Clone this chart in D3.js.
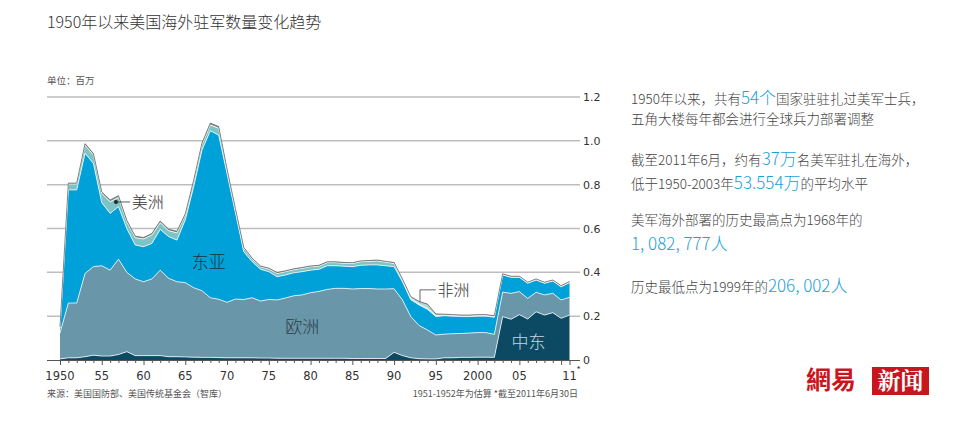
<!DOCTYPE html>
<html><head><meta charset="utf-8">
<script src="https://cdn.jsdelivr.net/npm/d3@7"></script>
<style>
body{margin:0;background:#fff;}
svg{display:block;font-family:"Noto Sans CJK SC","Noto Sans",sans-serif;}
</style></head>
<body><svg id="c" width="960" height="422"></svg>
<script>
const years = d3.range(1950, 2012);
const middleEast = [0.005,0.01,0.01,0.015,0.022,0.018,0.018,0.025,0.038,0.02,0.02,0.02,0.02,0.015,0.015,0.014,0.013,0.012,0.012,0.011,0.01,0.01,0.01,0.01,0.009,0.009,0.008,0.008,0.008,0.008,0.008,0.008,0.008,0.008,0.008,0.007,0.007,0.007,0.007,0.007,0.035,0.02,0.01,0.006,0.005,0.005,0.01,0.01,0.012,0.012,0.013,0.013,0.012,0.198,0.186,0.207,0.187,0.22,0.205,0.216,0.19,0.205];
const europe = [0.118,0.25,0.25,0.38,0.404,0.412,0.392,0.435,0.362,0.35,0.337,0.35,0.39,0.358,0.342,0.339,0.317,0.304,0.272,0.266,0.253,0.268,0.266,0.274,0.26,0.267,0.266,0.275,0.285,0.289,0.299,0.305,0.314,0.319,0.319,0.317,0.319,0.319,0.317,0.317,0.29,0.254,0.188,0.151,0.132,0.109,0.108,0.11,0.109,0.111,0.112,0.112,0.105,0.112,0.118,0.105,0.094,0.089,0.092,0.088,0.084,0.081];
const eastAsia = [0.02,0.516,0.516,0.548,0.471,0.288,0.259,0.24,0.2,0.155,0.16,0.162,0.186,0.19,0.19,0.286,0.46,0.642,0.762,0.749,0.587,0.394,0.218,0.165,0.145,0.127,0.106,0.105,0.105,0.106,0.103,0.101,0.108,0.103,0.101,0.102,0.106,0.108,0.11,0.106,0.101,0.083,0.077,0.094,0.094,0.084,0.084,0.08,0.077,0.075,0.075,0.075,0.078,0.078,0.073,0.065,0.069,0.056,0.053,0.056,0.06,0.067];
const americas = [0.005,0.027,0.027,0.037,0.038,0.042,0.053,0.042,0.03,0.033,0.035,0.038,0.03,0.027,0.033,0.022,0.023,0.025,0.026,0.031,0.016,0.015,0.016,0.012,0.011,0.012,0.015,0.015,0.014,0.015,0.015,0.014,0.014,0.014,0.013,0.014,0.016,0.016,0.018,0.016,0.014,0.008,0.006,0.004,0.004,0.004,0.003,0.003,0.003,0.003,0.003,0.003,0.003,0.002,0.002,0.002,0.002,0.002,0.002,0.002,0.002,0.002];
const africa = [0.001,0.001,0.001,0.001,0.001,0.001,0.001,0.001,0.001,0.001,0.001,0.001,0.001,0.001,0.001,0.001,0.001,0.001,0.001,0.001,0.001,0.001,0.001,0.001,0.001,0.001,0.001,0.001,0.001,0.001,0.001,0.001,0.001,0.001,0.001,0.001,0.001,0.001,0.001,0.001,0.002,0.003,0.006,0.01,0.018,0.006,0.002,0.002,0.002,0.002,0.002,0.002,0.002,0.001,0.001,0.001,0.001,0.001,0.001,0.001,0.001,0.001];
const other = [0.002,0.003,0.003,0.006,0.006,0.006,0.007,0.007,0.006,0.006,0.006,0.006,0.007,0.006,0.006,0.005,0.005,0.006,0.008,0.007,0.004,0.003,0.003,0.003,0.003,0.003,0.003,0.003,0.003,0.003,0.003,0.003,0.003,0.003,0.003,0.003,0.003,0.003,0.003,0.003,0.003,0.002,0.002,0.002,0.002,0.002,0.002,0.002,0.002,0.002,0.002,0.002,0.002,0.002,0.002,0.002,0.002,0.002,0.002,0.002,0.002,0.002];
const seriesNames = ["中东","欧洲","东亚","美洲","非洲","其他"];
const seriesColors = ["#0b4a62","#6996a9","#00a0d9","#7cc4c5","#a9dad6","#8c8c8c"];
const yTicks = [0,0.2,0.4,0.6,0.8,1.0,1.2];
const yTickLabels = ["0","0.2","0.4","0.6","0.8","1.0","1.2"];

const svg = d3.select("#c");
const x = d3.scaleLinear().domain([1950, 2011]).range([60, 569.5]);
const y = d3.scaleLinear().domain([0, 1.2]).range([360, 97]);

const table = years.map((yr,i)=>({year:yr, "中东":middleEast[i], "欧洲":europe[i], "东亚":eastAsia[i], "美洲":americas[i], "非洲":africa[i], "其他":other[i]}));
const stack = d3.stack().keys(seriesNames)(table);

// title
svg.append("text").attr("x",47).attr("y",28).attr("font-size",16).attr("font-weight",300).attr("fill","#333").text("1950年以来美国海外驻军数量变化趋势");
svg.append("text").attr("x",47).attr("y",84).attr("font-size",9.5).attr("fill","#555").text("单位：百万");

// gridlines
const g = svg.append("g");
yTicks.forEach((t,i)=>{
  if(t>0) g.append("line").attr("x1",47).attr("x2",580).attr("y1",y(t)).attr("y2",y(t)).attr("stroke","#bdbdbd").attr("stroke-width",1.5);
  g.append("text").attr("x",583).attr("y",y(t)+4).attr("font-size",11).attr("fill","#333").attr("font-family","DejaVu Sans, sans-serif").text(yTickLabels[i]);
});

// areas
const area = d3.area().x(d=>x(d.data.year)).y0(d=>y(d[0])).y1(d=>y(d[1]));
svg.append("g").selectAll("path").data(stack).join("path")
  .attr("d",area).attr("fill",(d,i)=>seriesColors[i]);
const topLine = d3.line().x(d=>x(d.data.year)).y(d=>y(d[1]));
svg.append("g").selectAll("path").data(stack.slice(0,4)).join("path")
  .attr("d",topLine).attr("fill","none").attr("stroke","rgba(255,255,255,0.75)").attr("stroke-width",1);
svg.append("path").datum(stack[5]).attr("d",topLine).attr("fill","none").attr("stroke","#666").attr("stroke-width",0.8);

// x axis
const xAxis = d3.axisBottom(x).tickValues(years).tickSize(3).tickFormat("");
const ax = svg.append("g").attr("transform","translate(0,360)").call(xAxis);
ax.select(".domain").attr("d","M47,0.5H580").attr("stroke","#555").attr("stroke-width",1.2);
ax.selectAll(".tick line").attr("stroke","#555").attr("y2",d=>(d%5===0||d===2011)?5:3);
const labelYears = [1950,1955,1960,1965,1970,1975,1980,1985,1990,1995,2000,2005,2011];
labelYears.forEach(yr=>{
  const lbl = (yr===1950||yr===2000)? String(yr) : String(yr).slice(2);
  svg.append("text").attr("x",x(yr)).attr("y",380).attr("text-anchor","middle").attr("font-size",11.5).attr("fill","#333").attr("font-family","DejaVu Sans, sans-serif").text(lbl);
});
svg.append("text").attr("x",x(2011)+7).attr("y",373).attr("font-size",9).attr("fill","#333").text("*");

// notes
svg.append("text").attr("x",47).attr("y",397).attr("font-size",9).attr("fill","#555").text("来源：美国国防部、美国传统基金会（智库）");
svg.append("text").attr("x",578).attr("y",397).attr("text-anchor","end").attr("font-size",9).attr("fill","#555").text("1951-1952年为估算  *截至2011年6月30日");

// series labels
const lab = svg.append("g").attr("font-weight",300);
const i57 = years.indexOf(1957);
const amY = y(stack[3][i57][0] + americas[i57]*0.5);
lab.append("circle").attr("cx",x(1956.7)).attr("cy",amY).attr("r",2).attr("fill","#222");
lab.append("line").attr("x1",x(1956.7)).attr("x2",x(1958.4)).attr("y1",amY).attr("y2",amY).attr("stroke","#333").attr("stroke-width",0.8);
lab.append("text").attr("x",x(1958.6)).attr("y",amY+6).attr("font-size",16).attr("fill","#333").text("美洲");
lab.append("text").attr("x",x(1967.8)).attr("y",y(0.45)+7).attr("text-anchor","middle").attr("font-size",17).attr("fill","#1c3440").text("东亚");
lab.append("text").attr("x",x(1979)).attr("y",y(0.155)+7).attr("text-anchor","middle").attr("font-size",17).attr("fill","#2b3c46").text("欧洲");
const i94 = years.indexOf(1993);
const afY = y(stack[4][i94][1]);
lab.append("path").attr("d",`M${x(1993.1)},${afY}V${y(0.32)}H${x(1995)}`).attr("fill","none").attr("stroke","#444").attr("stroke-width",0.8);
lab.append("text").attr("x",x(1995.2)).attr("y",y(0.32)+6).attr("font-size",16).attr("fill","#333").text("非洲");
lab.append("text").attr("x",x(2006.1)).attr("y",y(0.085)+7).attr("text-anchor","middle").attr("font-size",17).attr("fill","#c3d8e0").text("中东");

// right text
const rt = svg.append("g").attr("font-size",13.5).attr("fill","#444").attr("font-weight",300);
function line(yy, parts){
  const t = rt.append("text").attr("x",631).attr("y",yy);
  parts.forEach(p=>{
    const s = t.append("tspan").text(p[0]);
    if(p[1]) s.attr("fill","#1ba1da").attr("font-size",17);
  });
}
line(104,[["1950年以来，共有"],["54个",1],["国家驻驻扎过美军士兵，"]]);
line(124,[["五角大楼每年都会进行全球兵力部署调整"]]);
line(165,[["截至2011年6月，约有"],["37万",1],["名美军驻扎在海外，"]]);
line(189,[["低于1950-2003年"],["53.554万",1],["的平均水平"]]);
line(225,[["美军海外部署的历史最高点为1968年的"]]);
line(250,[["1, 082, 777人",1]]);
line(292,[["历史最低点为1999年的"],["206, 002人",1]]);

// logo
svg.append("text").attr("x",806).attr("y",389).attr("font-size",25).attr("fill","#c8161d").attr("font-weight","bold").text("網易");
svg.append("rect").attr("x",872).attr("y",367).attr("width",57).attr("height",28).attr("fill","#c8161d");
svg.append("text").attr("x",900.5).attr("y",389).attr("text-anchor","middle").attr("font-size",23).attr("fill","#fff").attr("font-weight","bold").attr("font-family","Noto Serif CJK SC, Noto Sans CJK SC, serif").text("新闻");
</script></body></html>
